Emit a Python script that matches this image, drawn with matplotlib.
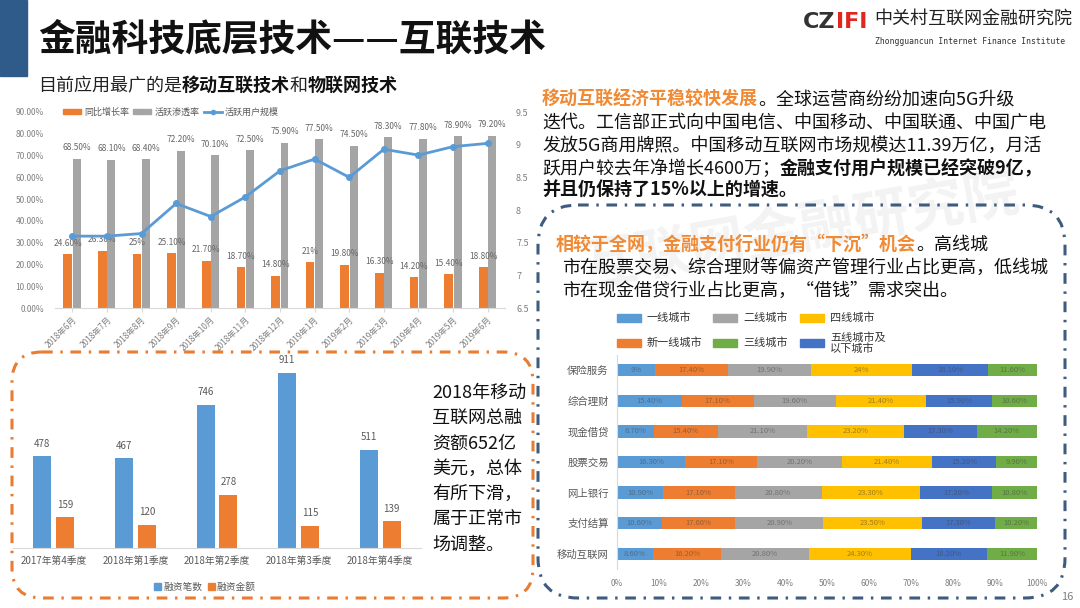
import numpy as np
import matplotlib.pyplot as plt
from matplotlib.patches import FancyBboxPatch, Rectangle, Patch
from matplotlib.lines import Line2D

plt.rcParams['font.family'] = ['Noto Sans CJK SC', 'DejaVu Sans']

# --- data: monthly mobile internet (top left) ---
months = ['2018年6月', '2018年7月', '2018年8月', '2018年9月', '2018年10月', '2018年11月',
          '2018年12月', '2019年1月', '2019年2月', '2019年3月', '2019年4月', '2019年5月', '2019年6月']
yoy_growth = [24.6, 26.3, 25, 25.1, 21.7, 18.7, 14.8, 21, 19.8, 16.3, 14.2, 15.4, 18.8]
penetration = [68.5, 68.1, 68.4, 72.2, 70.1, 72.5, 75.9, 77.5, 74.5, 78.3, 77.8, 78.9, 79.2]
active_users = [7.6, 7.6, 7.64, 8.1, 7.9, 8.2, 8.6, 8.78, 8.5, 8.93, 8.84, 8.97, 9.02]

# --- data: financing by quarter (bottom left) ---
quarters = ['2017年第4季度', '2018年第1季度', '2018年第2季度', '2018年第3季度', '2018年第4季度']
deal_count = [478, 467, 746, 911, 511]
deal_amount = [159, 120, 278, 115, 139]

# --- data: city tier share by industry (right) ---
industries = ['保险服务', '综合理财', '现金借贷', '股票交易', '网上银行', '支付结算', '移动互联网']
tier1 = [9, 15.4, 8.7, 16.3, 10.9, 10.6, 8.6]
tier1_new = [17.4, 17.1, 15.4, 17.1, 17.1, 17.6, 16.2]
tier2 = [19.9, 19.6, 21.1, 20.2, 20.8, 20.9, 20.8]
tier4 = [24, 21.4, 23.2, 21.4, 23.3, 23.5, 24.3]
tier5 = [18.1, 15.9, 17.3, 15.2, 17.2, 17.3, 18.2]
tier3 = [11.6, 10.6, 14.2, 9.9, 10.8, 10.2, 11.9]

ORANGE = '#ED7D31'
GRAY = '#A5A5A5'
LBLUE = '#5B9BD5'
DBLUE = '#4472C4'
YELLOW = '#FFC000'
GREEN = '#70AD47'
TXT = '#595959'

W, H = 1080, 608


def rect(x0, y0, x1, y1):
    return [x0 / W, 1 - y1 / H, (x1 - x0) / W, (y1 - y0) / H]


def fmt(v):
    return f'{v:g}%' if v == int(v) else f'{v:.2f}%'


fig = plt.figure(figsize=(10.8, 6.08), dpi=100)
bg = fig.add_axes([0, 0, 1, 1])
bg.set_xlim(0, W)
bg.set_ylim(H, 0)
bg.axis('off')


def rich(x, y, parts, size):
    t = None
    for s, c, w in parts:
        if t is None:
            t = bg.text(x, y, s, color=c, fontweight=w, fontsize=size, va='baseline', ha='left')
        else:
            t = bg.annotate(s, xy=(1, y), xycoords=(t, 'data'), color=c, fontweight=w,
                            fontsize=size, va='baseline', ha='left')
    return t


# --- header ---
bg.add_patch(Rectangle((0, 0), 27, 76, color='#2E5B8A'))
bg.text(38, 40, '金融科技底层技术——互联技术', fontsize=26.5, fontweight='bold', va='center', color='#111111')
rich(38, 91, [('目前应用最广的是', '#222222', 'normal'), ('移动互联技术', '#111111', 'bold'),
              ('和', '#222222', 'normal'), ('物联网技术', '#111111', 'bold')], 13)
t = bg.text(803, 28, 'CZ', fontsize=16, fontweight='bold', color='#333333', family='DejaVu Sans')
bg.annotate('IFI', xy=(1, 28), xycoords=(t, 'data'), fontsize=16, fontweight='bold', color='#E0261E',
            family='DejaVu Sans', va='baseline')
bg.text(874, 19, '中关村互联网金融研究院', fontsize=13, va='center', color='#222222')
bg.text(875, 41, 'Zhongguancun Internet Finance Institute', fontsize=5.9, va='center',
        color='#333333', family='DejaVu Sans Mono')
bg.text(1067, 597, '16', fontsize=8, color='#7F7F7F', ha='center', va='center')

# watermark
bg.text(800, 232, '互联网金融研究院', fontsize=40, fontweight='bold', rotation=10, color='#000000',
        alpha=0.05, ha='center', va='center', zorder=0)

# --- top right paragraph ---
OR_TXT = '#F08A35'
para_y = [105, 128, 151, 174, 196]
rich(542, para_y[0], [('移动互联经济平稳较快发展', OR_TXT, 'bold'),
                      ('。全球运营商纷纷加速向5G升级', '#111111', 'normal')], 13)
rich(542, para_y[1], [('迭代。工信部正式向中国电信、中国移动、中国联通、中国广电', '#111111', 'normal')], 13)
rich(542, para_y[2], [('发放5G商用牌照。中国移动互联网市场规模达11.39万亿，月活', '#111111', 'normal')], 13)
rich(542, para_y[3], [('跃用户较去年净增长4600万；', '#111111', 'normal'),
                      ('金融支付用户规模已经突破9亿，', '#111111', 'bold')], 13)
rich(542, para_y[4], [('并且仍保持了15%以上的增速。', '#111111', 'bold')], 13)

# --- dashed boxes ---
bg.add_patch(FancyBboxPatch((538, 205), 527, 393, boxstyle='round,pad=0,rounding_size=40',
                            fill=False, ec='#3E5C7E', lw=2.2, ls=(0, (3.5, 2.5, 0.8, 2.5))))
bg.add_patch(FancyBboxPatch((12, 352), 521, 246, boxstyle='round,pad=0,rounding_size=30',
                            fill=False, ec='#E97C30', lw=2.2, ls=(0, (3.5, 2.5, 0.8, 2.5))))

rich(556, 250, [('相较于全网，金融支付行业仍有“下沉”机会', OR_TXT, 'bold'),
                ('。高线城', '#111111', 'normal')], 13)
rich(562, 273, [('市在股票交易、综合理财等偏资产管理行业占比更高，低线城', '#111111', 'normal')], 13)
rich(562, 296, [('市在现金借贷行业占比更高，“借钱”需求突出。', '#111111', 'normal')], 13)

# --- bottom left side text ---
side = ['2018年移动', '互联网总融', '资额652亿', '美元，总体', '有所下滑，', '属于正常市', '场调整。']
for i, s in enumerate(side):
    bg.text(432, 393 + i * 25.3, s, fontsize=13, va='center', color='#111111')

# --- chart 1: monthly ---
ax1 = fig.add_axes(rect(55, 112, 505, 308))
ax1.patch.set_alpha(0)
x = np.arange(len(months))
ax1.bar(x - 0.13, yoy_growth, 0.25, color=ORANGE)
ax1.bar(x + 0.13, penetration, 0.23, color=GRAY)
for xi, v in zip(x, yoy_growth):
    ax1.text(xi - 0.13, v + 5, fmt(v), ha='center', va='center', fontsize=6, color='#666666')
for xi, v in zip(x, penetration):
    ax1.text(xi + 0.13, v + 5, fmt(v), ha='center', va='center', fontsize=6, color='#666666')
ax1.set_xlim(-0.5, len(months) - 0.5)
ax1.set_ylim(0, 90)
ax1.set_yticks(range(0, 91, 10))
ax1.set_yticklabels([f'{v:.2f}%' for v in range(0, 91, 10)])
ax1.set_xticks(x)
ax1.set_xticklabels(months, rotation=45, ha='right', rotation_mode='anchor')
for s in ['top', 'left', 'right']:
    ax1.spines[s].set_visible(False)
ax1.spines['bottom'].set_color('#D9D9D9')
ax1.tick_params(axis='y', length=0, labelsize=6, labelcolor='#7F7F7F', pad=8)
ax1.tick_params(axis='x', length=3, color='#D9D9D9', labelsize=6, labelcolor='#7F7F7F', pad=2)

ax1b = ax1.twinx()
ax1b.plot(x, active_users, color=LBLUE, lw=2, marker='o', ms=4)
ax1b.set_ylim(6.5, 9.5)
yt = np.arange(6.5, 9.51, 0.5)
ax1b.set_yticks(yt)
ax1b.set_yticklabels([f'{v:g}' for v in yt])
for s in ['top', 'left', 'right', 'bottom']:
    ax1b.spines[s].set_visible(False)
ax1b.tick_params(axis='y', length=0, labelsize=6.5, labelcolor='#7F7F7F', pad=8)
ax1.legend(handles=[Patch(color=ORANGE, label='同比增长率'), Patch(color=GRAY, label='活跃渗透率'),
                    Line2D([], [], color=LBLUE, lw=2, marker='o', ms=3, label='活跃用户规模')],
           loc='center left', bbox_to_anchor=(0.0, 1.0), ncol=3, frameon=False, fontsize=6.5,
           handlelength=2, handleheight=0.6, handletextpad=0.3, columnspacing=0.5,
           labelcolor='#595959')

# --- chart 2: quarterly financing ---
ax2 = fig.add_axes(rect(13, 356, 421, 548))
ax2.patch.set_alpha(0)
q = np.arange(len(quarters))
ax2.bar(q - 0.14, deal_count, 0.22, color=LBLUE)
ax2.bar(q + 0.14, deal_amount, 0.22, color=ORANGE)
for xi, v in zip(q, deal_count):
    ax2.text(xi - 0.14, v + 40, str(v), ha='center', va='bottom', fontsize=7, color=TXT)
for xi, v in zip(q, deal_amount):
    ax2.text(xi + 0.14, v + 40, str(v), ha='center', va='bottom', fontsize=7, color=TXT)
ax2.set_xlim(-0.5, len(quarters) - 0.5)
ax2.set_ylim(0, 1000)
ax2.set_yticks([])
ax2.set_xticks(q)
ax2.set_xticklabels(quarters)
for s in ['top', 'left', 'right']:
    ax2.spines[s].set_visible(False)
ax2.spines['bottom'].set_color('#D9D9D9')
ax2.tick_params(axis='x', length=0, labelsize=7, labelcolor=TXT, pad=6)
ax2.legend(handles=[Patch(color=LBLUE, label='融资笔数'), Patch(color=ORANGE, label='融资金额')],
           loc='center', bbox_to_anchor=(205, 587), bbox_transform=bg.transData, ncol=2,
           frameon=False, fontsize=7, handlelength=0.7, handleheight=0.7, handletextpad=0.2,
           columnspacing=0.6, labelcolor=TXT)

# --- chart 3: stacked city tier shares ---
ax3 = fig.add_axes(rect(617, 355, 1037, 569))
ax3.patch.set_alpha(0)
series = [('一线城市', tier1, LBLUE), ('新一线城市', tier1_new, ORANGE), ('二线城市', tier2, GRAY),
          ('四线城市', tier4, YELLOW), ('五线城市及\n以下城市', tier5, DBLUE), ('三线城市', tier3, GREEN)]
yy = np.arange(len(industries))
left = np.zeros(len(industries))
for name, vals, col in series:
    vals = np.array(vals, dtype=float)
    ax3.barh(yy, vals, 0.4, left=left, color=col, label=name)
    for yi, l, v in zip(yy, left, vals):
        ax3.text(l + v / 2, yi, fmt(v), ha='center', va='center', fontsize=5.5,
                 color='#404040', alpha=0.5)
    left = left + vals
ax3.set_ylim(len(industries) - 0.5, -0.5)
ax3.set_xlim(0, 100)
ax3.set_xticks(range(0, 101, 10))
ax3.set_xticklabels([f'{v}%' for v in range(0, 101, 10)])
ax3.set_yticks(yy)
ax3.set_yticklabels(industries)
for s in ['top', 'bottom', 'right']:
    ax3.spines[s].set_visible(False)
ax3.spines['left'].set_color('#D9D9D9')
ax3.tick_params(axis='x', length=0, labelsize=6, labelcolor='#7F7F7F', pad=7)
ax3.tick_params(axis='y', length=0, labelsize=7.5, labelcolor=TXT, pad=6)

# legend (column-major: 一线/新一线, 二线/三线, 四线/五线)
leg_cols = [617, 713, 800]
leg_rows = [318, 343]
order = ['一线城市', '新一线城市', '二线城市', '三线城市', '四线城市', '五线城市及\n以下城市']
colors = {n: c for n, _, c in series}
for i, n in enumerate(order):
    cx = leg_cols[i // 2]
    cy = leg_rows[i % 2]
    bg.add_patch(Rectangle((cx, cy - 4), 24, 8, color=colors[n]))
    bg.text(cx + 30, cy, n, fontsize=8, va='center', color='#333333', linespacing=1.1)

fig.savefig('out.png', dpi=100)
